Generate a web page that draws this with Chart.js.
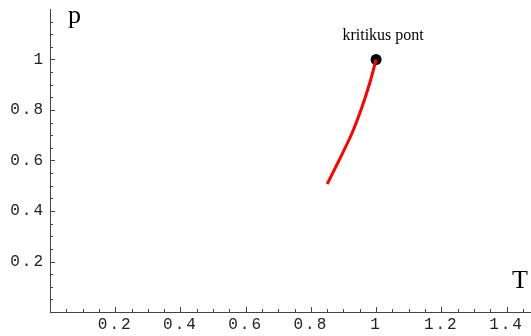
<!doctype html>
<html lang="hu">
<head>
<meta charset="utf-8"/>
<title>kritikus pont</title>
<style>
  html,body{margin:0;padding:0;background:#fff}
  .wrap{width:531px;height:336px;position:relative}
</style>
<script src="https://cdn.jsdelivr.net/npm/chart.js@4.4.0/dist/chart.umd.min.js"></script>
</head>
<body>
<div class="wrap"><canvas id="chart"></canvas></div>
<script>
  // gőznyomás görbe (redukált T, p) leolvasva
  const curveT = [0.85, 0.885, 0.925, 0.957, 0.983, 1.0];
  const curveP = [0.507, 0.597, 0.705, 0.813, 0.918, 1.0];
  const critT = [1.0];
  const critP = [1.0];
  const critLabel = 'kritikus pont';

  const xTicks = [0.2, 0.4, 0.6, 0.8, 1, 1.2, 1.4];
  const yTicks = [0.2, 0.4, 0.6, 0.8, 1];
  const minorStep = 0.05;
  const xMax = 1.475, yMax = 1.2;

  const axisColor = '#444';
  const tickFont = { family: "'Liberation Mono', 'Courier New', monospace", size: 16 };
  const serif = "'Liberation Serif', 'Times New Roman', serif";

  const toPts = (xs, ys) => xs.map((x, i) => ({ x, y: ys[i] }));

  // Mathematica-szerű befelé mutató osztások, tengelynevek, felirat
  const decor = {
    id: 'decor',
    beforeDraw(chart) { chart.ctx.letterSpacing = '2px'; },
    beforeDatasetsDraw(chart) { chart.ctx.letterSpacing = '0px'; },
    afterDraw(chart) {
      const { ctx, chartArea: a, scales: { x, y } } = chart;
      ctx.save();
      ctx.letterSpacing = '0px';
      ctx.strokeStyle = axisColor;
      ctx.lineWidth = 1;
      ctx.beginPath();
      for (let i = 1; i * minorStep <= xMax + 1e-9; i++) {
        const px = Math.round(x.getPixelForValue(i * minorStep)) + 0.5;
        const len = i % 4 === 0 ? 5 : 3;
        ctx.moveTo(px, a.bottom); ctx.lineTo(px, a.bottom - len);
      }
      for (let i = 1; i * minorStep <= yMax - 1e-9; i++) {
        const py = Math.round(y.getPixelForValue(i * minorStep)) + 0.5;
        const len = i % 4 === 0 ? 5 : 3;
        ctx.moveTo(a.left, py); ctx.lineTo(a.left + len, py);
      }
      ctx.stroke();

      ctx.fillStyle = '#000';
      ctx.textBaseline = 'alphabetic';
      ctx.font = `26px ${serif}`;
      ctx.textAlign = 'left';
      ctx.fillText('p', a.left + 18, 23);
      ctx.fillText('T', a.right - 19, a.bottom - 24);

      ctx.font = `16px ${serif}`;
      ctx.textAlign = 'center';
      const cx = x.getPixelForValue(critT[0]), cy = y.getPixelForValue(critP[0]);
      ctx.fillText(critLabel, cx + 7, cy - 20);
      ctx.restore();
    }
  };

  new Chart(document.getElementById('chart'), {
    type: 'scatter',
    data: {
      datasets: [
        { data: toPts(curveT, curveP), showLine: true, borderColor: '#ff0000', borderWidth: 3,
          pointRadius: 0, tension: 0.25, fill: false },
        { data: toPts(critT, critP), pointRadius: 5.5, pointBackgroundColor: '#000',
          pointBorderColor: '#000', pointBorderWidth: 0 }
      ]
    },
    options: {
      responsive: true,
      maintainAspectRatio: false,
      animation: false,
      events: [],
      layout: { autoPadding: false, padding: { top: 9, right: 0, left: 0, bottom: 0 } },
      plugins: { legend: { display: false }, tooltip: { enabled: false } },
      scales: {
        x: {
          type: 'linear', min: 0, max: xMax,
          grid: { display: false, drawTicks: false },
          border: { display: true, color: axisColor, width: 1 },
          afterBuildTicks: s => { s.ticks = xTicks.map(v => ({ value: v })); },
          afterFit: s => { s.height = 24; s.paddingLeft = 0; s.paddingRight = 0; },
          ticks: { font: tickFont, color: '#222', padding: 3, maxRotation: 0, autoSkip: false,
            callback: v => String(v) }
        },
        y: {
          type: 'linear', min: 0, max: yMax,
          grid: { display: false, drawTicks: false },
          border: { display: true, color: axisColor, width: 1 },
          afterBuildTicks: s => { s.ticks = yTicks.map(v => ({ value: v })); },
          afterFit: s => { s.width = 50; s.paddingTop = 0; s.paddingBottom = 0; },
          ticks: { font: tickFont, color: '#222', padding: 5, autoSkip: false,
            callback: v => String(v) }
        }
      }
    },
    plugins: [decor]
  });
</script>
</body></html>
